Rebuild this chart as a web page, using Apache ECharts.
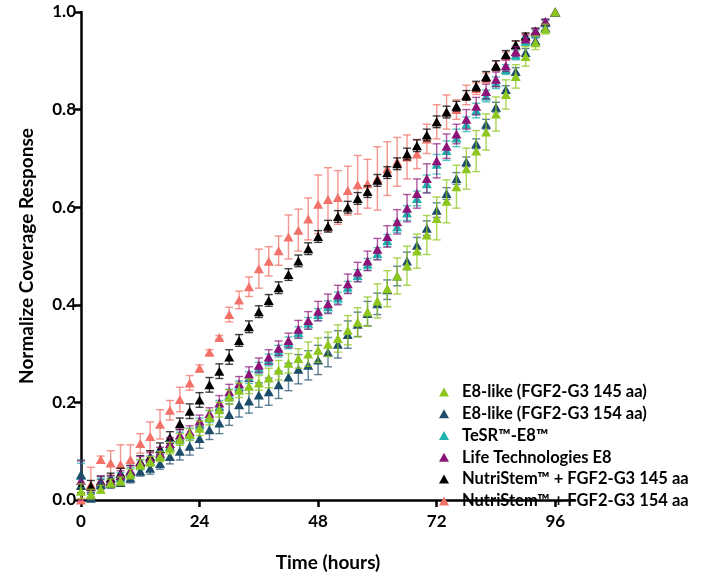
<!DOCTYPE html>
<html><head><meta charset="utf-8">
<script src="https://cdn.jsdelivr.net/npm/echarts@6/dist/echarts.min.js"></script>
<style>html,body{margin:0;padding:0;background:#fff}#c{width:704px;height:577px}</style>
</head><body><div id="c"></div>
<script>
const hours = [0,2,4,6,8,10,12,14,16,18,20,22,24,26,28,30,32,34,36,38,40,42,44,46,48,50,52,54,56,58,60,62,64,66,68,70,72,74,76,78,80,82,84,86,88,90,92,94,96];
const xTicks = [0,24,48,72,96];
const yTicks = [0,0.2,0.4,0.6,0.8,1.0];
const seriesNames = ['E8-like (FGF2-G3 145 aa)','E8-like (FGF2-G3 154 aa)','TeSR\u2122-E8\u2122','Life Technologies E8','NutriStem\u2122 + FGF2-G3 145 aa','NutriStem\u2122 + FGF2-G3 154 aa'];

const e8Like145 = [0.018,0.012,0.022,0.035,0.039,0.053,0.073,0.079,0.089,0.106,0.124,0.134,0.147,0.169,0.185,0.211,0.225,0.233,0.240,0.250,0.266,0.280,0.290,0.299,0.307,0.319,0.331,0.348,0.364,0.386,0.408,0.433,0.459,0.480,0.510,0.543,0.577,0.612,0.642,0.679,0.715,0.754,0.791,0.831,0.868,0.909,0.937,0.965,1.0];
const e8Like145Err = [0.015,0.01,0.008,0.008,0.008,0.01,0.01,0.01,0.01,0.012,0.012,0.012,0.015,0.015,0.015,0.015,0.015,0.015,0.015,0.02,0.02,0.02,0.02,0.025,0.025,0.025,0.028,0.03,0.03,0.03,0.035,0.037,0.037,0.04,0.035,0.04,0.044,0.044,0.044,0.042,0.042,0.037,0.035,0.03,0.024,0.02,0.014,0.01,0];

const e8Like154 = [0.052,0.004,0.032,0.034,0.036,0.045,0.059,0.065,0.075,0.089,0.100,0.110,0.126,0.144,0.158,0.175,0.195,0.203,0.215,0.222,0.236,0.252,0.268,0.276,0.287,0.303,0.319,0.339,0.360,0.382,0.402,0.431,0.459,0.490,0.522,0.557,0.594,0.628,0.659,0.693,0.730,0.770,0.805,0.841,0.878,0.917,0.941,0.967,1.0];
const e8Like154Err = [0.03,0.008,0.01,0.01,0.008,0.01,0.01,0.012,0.012,0.015,0.018,0.018,0.02,0.02,0.022,0.022,0.025,0.025,0.025,0.028,0.028,0.028,0.03,0.03,0.03,0.03,0.028,0.028,0.025,0.025,0.022,0.02,0.02,0.018,0.016,0.015,0.015,0.012,0.012,0.01,0.01,0.01,0.01,0.008,0.008,0.008,0.006,0.005,0];

const tesrE8 = [0.050,0.005,0.035,0.038,0.046,0.056,0.072,0.080,0.091,0.110,0.127,0.135,0.156,0.171,0.192,0.215,0.232,0.251,0.270,0.287,0.305,0.322,0.343,0.362,0.380,0.396,0.414,0.436,0.460,0.483,0.505,0.532,0.560,0.588,0.618,0.648,0.688,0.716,0.742,0.770,0.798,0.828,0.855,0.882,0.912,0.940,0.957,0.978,1.0];
const tesrE8Err = [0.025,0.008,0.01,0.01,0.01,0.01,0.01,0.01,0.01,0.01,0.012,0.012,0.012,0.012,0.012,0.012,0.012,0.012,0.012,0.012,0.012,0.012,0.012,0.012,0.012,0.012,0.012,0.012,0.012,0.012,0.012,0.012,0.012,0.015,0.015,0.018,0.02,0.02,0.018,0.015,0.015,0.012,0.012,0.01,0.01,0.008,0.006,0.005,0];

const lifeTechE8 = [0.040,0.010,0.037,0.040,0.050,0.060,0.077,0.085,0.096,0.116,0.133,0.140,0.162,0.177,0.199,0.222,0.238,0.258,0.276,0.293,0.311,0.327,0.350,0.368,0.387,0.402,0.420,0.443,0.467,0.490,0.514,0.540,0.570,0.598,0.628,0.659,0.695,0.725,0.750,0.780,0.807,0.837,0.862,0.890,0.919,0.945,0.960,0.980,1.0];
const lifeTechE8Err = [0.04,0.01,0.012,0.01,0.01,0.01,0.012,0.012,0.012,0.012,0.012,0.012,0.012,0.012,0.015,0.015,0.015,0.015,0.015,0.015,0.015,0.015,0.018,0.018,0.02,0.02,0.02,0.02,0.02,0.02,0.022,0.022,0.025,0.028,0.03,0.03,0.035,0.025,0.02,0.02,0.018,0.015,0.015,0.012,0.01,0.008,0.006,0.005,0];

const nutri145 = [0.030,0.028,0.039,0.045,0.055,0.059,0.079,0.089,0.105,0.128,0.156,0.182,0.205,0.236,0.264,0.293,0.327,0.355,0.386,0.409,0.435,0.462,0.490,0.515,0.540,0.561,0.581,0.600,0.618,0.632,0.655,0.671,0.689,0.709,0.726,0.748,0.775,0.795,0.807,0.829,0.848,0.868,0.890,0.913,0.933,0.951,0.961,0.980,1.0];
const nutri145Err = [0.015,0.012,0.01,0.01,0.01,0.012,0.012,0.012,0.012,0.012,0.012,0.015,0.015,0.015,0.015,0.015,0.012,0.012,0.012,0.012,0.012,0.012,0.012,0.012,0.012,0.012,0.012,0.012,0.012,0.012,0.012,0.012,0.012,0.012,0.012,0.012,0.012,0.012,0.01,0.01,0.01,0.01,0.01,0.008,0.008,0.006,0.006,0.005,0];

const nutri154 = [0.000,0.032,0.083,0.076,0.073,0.083,0.116,0.130,0.155,0.184,0.206,0.240,0.270,0.303,0.333,0.380,0.410,0.437,0.474,0.489,0.511,0.539,0.553,0.576,0.606,0.616,0.620,0.634,0.646,0.648,0.659,0.679,0.693,0.703,0.709,0.740,0.775,0.795,0.800,0.830,0.843,0.865,0.890,0.910,0.932,0.950,0.960,0.978,1.0];
const nutri154Err = [0,0.035,0.007,0.025,0.04,0.03,0.02,0.03,0.03,0.02,0.025,0.015,0.007,0.005,0.004,0.015,0.018,0.02,0.04,0.03,0.03,0.045,0.043,0.043,0.06,0.065,0.055,0.05,0.06,0.05,0.065,0.055,0.05,0.045,0.03,0.03,0.035,0.035,0.02,0.02,0.012,0.01,0.01,0.008,0.008,0.006,0.005,0.004,0];

const colors = ['#8DC71E','#1E4D6B','#1FB3AE','#8C1478','#000000','#F2726A'];
const errColors = ['rgba(141,199,30,0.75)','rgba(30,77,107,0.7)','rgba(31,179,174,0.75)','rgba(140,20,120,0.7)','rgba(0,0,0,0.75)','rgba(242,114,106,0.75)'];
const values = [e8Like145,e8Like154,tesrE8,lifeTechE8,nutri145,nutri154];
const errors = [e8Like145Err,e8Like154Err,tesrE8Err,lifeTechE8Err,nutri145Err,nutri154Err];
// drawing order bottom -> top
const drawOrder = [5,4,2,3,1,0];

const FONT = 'Lato';

function errRender(color){
  return function(params, api){
    const x = api.value(0), lo = api.value(1), hi = api.value(2);
    if (hi - lo <= 0) return null;
    const a = api.coord([x, hi]), b = api.coord([x, lo]);
    const w = 4;
    const st = {stroke: color, lineWidth: 1.4};
    return {type:'group', children:[
      {type:'line', shape:{x1:a[0],y1:a[1],x2:b[0],y2:b[1]}, style:st},
      {type:'line', shape:{x1:a[0]-w,y1:a[1],x2:a[0]+w,y2:a[1]}, style:st},
      {type:'line', shape:{x1:b[0]-w,y1:b[1],x2:b[0]+w,y2:b[1]}, style:st}
    ]};
  };
}

const series = [];
drawOrder.forEach(function(i, k){
  series.push({
    type:'custom', name:'err'+i, renderItem: errRender(errColors[i]),
    encode:{x:0, y:[1,2]}, z: 2 + k*2, clip:false, silent:true,
    data: hours.map(function(h, j){ return [h, values[i][j]-errors[i][j], values[i][j]+errors[i][j]]; })
  });
  series.push({
    type:'scatter', name: seriesNames[i], symbol:'triangle', symbolSize:[10,9],
    itemStyle:{color:colors[i], opacity:1}, z: 3 + k*2,
    data: hours.map(function(h, j){ return [h, values[i][j]]; })
  });
});

const chart = echarts.init(document.getElementById('c'), null, {renderer:'canvas'});
chart.setOption({
  animation:false,
  backgroundColor:'#fff',
  grid:{left:81, right:129, top:12, bottom:73, containLabel:false},
  xAxis:{
    type:'value', min:0, max:100, interval:24,
    name:'Time (hours)', nameLocation:'middle', nameGap:53,
    nameTextStyle:{fontFamily:FONT, fontWeight:'bold', fontSize:19, color:'#000'},
    axisLine:{lineStyle:{color:'#000', width:2.5}},
    axisTick:{show:true, length:7, lineStyle:{color:'#000', width:2.5}, customValues:xTicks},
    axisLabel:{fontFamily:FONT, fontWeight:'bold', fontSize:17, color:'#000', margin:13, customValues:xTicks},
    splitLine:{show:false}
  },
  yAxis:{
    type:'value', min:0, max:1, interval:0.2,
    name:'Normalize Coverage Response', nameLocation:'middle', nameGap:45,
    nameTextStyle:{fontFamily:FONT, fontWeight:'bold', fontSize:19, color:'#000'},
    axisLine:{show:true, lineStyle:{color:'#000', width:2.5}},
    axisTick:{show:true, length:7, lineStyle:{color:'#000', width:2.5}, customValues:yTicks},
    axisLabel:{fontFamily:FONT, fontWeight:'bold', fontSize:17, color:'#000', margin:5, customValues:yTicks,
      formatter:function(v){ return v.toFixed(1); }},
    splitLine:{show:false}
  },
  legend:{
    orient:'vertical', left:434, top:378, itemWidth:10, itemHeight:9, itemGap:4,
    icon:'triangle',
    data: seriesNames.map(function(n, i){ return {name:n, itemStyle:{color:colors[i]}}; }),
    textStyle:{fontFamily:FONT, fontWeight:'bold', fontSize:16.5, color:'#000', lineHeight:17.8, padding:[0,0,0,8]},
    selectedMode:false
  },
  series: series
});
</script>
</body></html>
